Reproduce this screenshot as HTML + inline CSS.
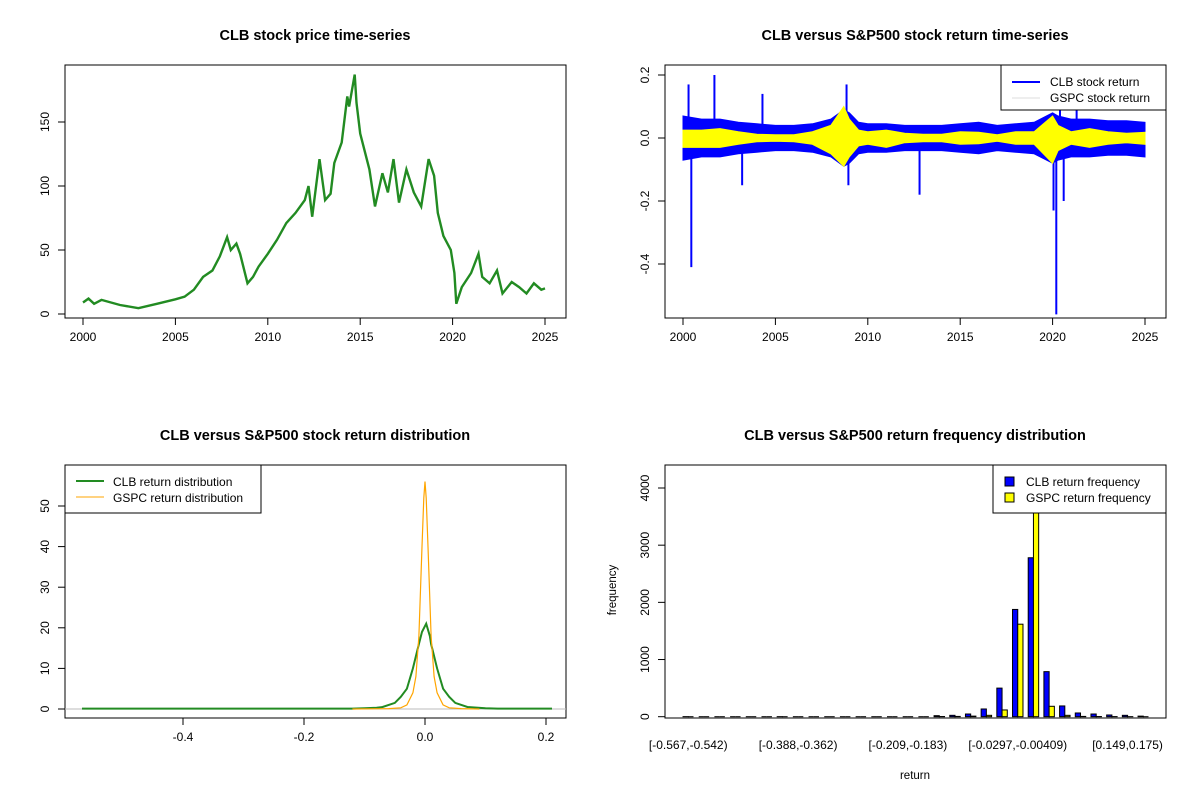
<!DOCTYPE html>
<html><head><meta charset="utf-8"><style>
body{margin:0;background:#fff}
svg{display:block;font-family:"Liberation Sans",Arial,sans-serif}
</style></head><body>
<svg id="c" width="1200" height="800" viewBox="0 0 1200 800"></svg>
<script>
// ---- Panel 1 data: CLB price
const priceYears=[2000,2000.3,2000.6,2001,2002,2003,2004,2005,2005.5,2006,2006.5,2007,2007.4,2007.8,2008,2008.3,2008.5,2008.9,2009.2,2009.5,2010,2010.5,2011,2011.5,2012,2012.2,2012.4,2012.8,2013.1,2013.4,2013.6,2014,2014.3,2014.4,2014.7,2014.8,2015,2015.5,2015.8,2016.2,2016.5,2016.8,2017.1,2017.5,2017.9,2018.3,2018.7,2019,2019.2,2019.5,2019.9,2020.1,2020.2,2020.5,2021,2021.4,2021.6,2022,2022.4,2022.7,2023.2,2023.6,2024,2024.4,2024.8,2025];
const priceValues=[9,12,8,11,7,4.5,8,11.5,13.5,19,29,34,45,60,50,55,47,24,29,37,47,58,71,79,89,100,76,121,89,94,118,134,170,162,187,165,141,113,84,110,95,121,87,113,95,84,121,108,79,61,50,32,8,21,32,47,29,24,34,16,25,21,16,24,19,20];
const priceTicks=[0,50,100,150];
const yearTicks=[2000,2005,2010,2015,2020,2025];
// ---- Panel 2 data: return envelopes per period
const retYears=[2000,2001,2002,2003,2004,2005,2006,2007,2008,2008.7,2009,2009.5,2010,2011,2012,2013,2014,2015,2016,2017,2018,2019,2020,2020.3,2021,2022,2023,2024,2025];
const clbHi=[0.07,0.06,0.06,0.05,0.045,0.04,0.04,0.045,0.06,0.09,0.08,0.05,0.045,0.045,0.04,0.04,0.04,0.045,0.05,0.04,0.045,0.05,0.08,0.07,0.06,0.06,0.055,0.055,0.05];
const clbLo=[-0.07,-0.06,-0.06,-0.05,-0.045,-0.04,-0.04,-0.045,-0.06,-0.09,-0.08,-0.05,-0.045,-0.045,-0.04,-0.04,-0.04,-0.045,-0.05,-0.04,-0.045,-0.05,-0.08,-0.07,-0.06,-0.06,-0.055,-0.055,-0.06];
const gspcHi=[0.025,0.025,0.03,0.02,0.012,0.01,0.01,0.02,0.04,0.1,0.06,0.025,0.02,0.025,0.015,0.012,0.012,0.02,0.018,0.01,0.02,0.02,0.07,0.04,0.02,0.03,0.02,0.015,0.018];
const gspcLo=[-0.03,-0.03,-0.03,-0.02,-0.012,-0.01,-0.012,-0.02,-0.05,-0.09,-0.06,-0.025,-0.02,-0.03,-0.015,-0.012,-0.012,-0.02,-0.018,-0.01,-0.02,-0.02,-0.08,-0.04,-0.02,-0.03,-0.02,-0.015,-0.02];
const spikeYears=[2000.3,2000.45,2001.7,2003.2,2004.3,2008.85,2008.95,2012.8,2020.05,2020.2,2020.4,2020.6,2021.3];
const spikeValues=[0.17,-0.41,0.2,-0.15,0.14,0.17,-0.15,-0.18,-0.23,-0.56,0.15,-0.2,0.12];
const retTicks=[-0.4,-0.2,0.0,0.2];
// ---- Panel 3 data: densities
const densX=[-0.567,-0.3,-0.12,-0.1,-0.08,-0.07,-0.05,-0.04,-0.03,-0.02,-0.01,-0.005,0.002,0.008,0.01,0.02,0.03,0.04,0.05,0.07,0.1,0.12,0.15,0.21];
const clbDens=[0.1,0.1,0.1,0.2,0.3,0.5,1.5,3,5,10,16,19,21,18,16,10,5,3,1.5,0.5,0.2,0.1,0.1,0.1];
const gspcDX=[-0.12,-0.06,-0.04,-0.03,-0.02,-0.015,-0.01,-0.005,-0.002,0,0.002,0.005,0.01,0.015,0.02,0.03,0.04,0.06,0.09];
const gspcDens=[0,0.1,0.3,1,4,8,18,40,52,56,52,40,18,8,4,1,0.3,0.1,0];
const densTicksY=[0,10,20,30,40,50];
const densTicksX=[-0.4,-0.2,0.0,0.2];
// ---- Panel 4 data: histogram
const binLabels=["[-0.567,-0.542)","[-0.388,-0.362)","[-0.209,-0.183)","[-0.0297,-0.00409)","[0.149,0.175)"];
const binLabelIdx=[0,7,14,21,28];
const clbFreq=[1,0,0,0,0,0,1,0,0,0,0,0,0,0,0,0,18,24,47,135,500,1876,2780,788,188,65,47,30,24,10];
const gspcFreq=[0,0,0,0,0,0,0,0,0,0,0,0,0,0,0,0,3,5,10,24,118,1618,4500,182,24,5,3,2,1,0];
const freqTicks=[0,1000,2000,3000,4000];

const NS="http://www.w3.org/2000/svg";
const svg=document.getElementById('c');
function mk(tag,attrs,parent){const e=document.createElementNS(NS,tag);for(const k in attrs)e.setAttribute(k,attrs[k]);(parent||svg).appendChild(e);return e;}
function txt(x,y,s,size,opts,parent){const t=mk('text',Object.assign({x:x,y:y,'font-size':size,'text-anchor':'middle',fill:'#000'},opts||{}),parent);t.textContent=s;return t;}
function lin(a0,a1,p0,p1){return v=>p0+(v-a0)*(p1-p0)/(a1-a0);}
function box(x0,y0,x1,y1,name){const r=mk('rect',{x:x0,y:y0,width:x1-x0,height:y1-y0,fill:'none',stroke:'#000','stroke-width':1});}
function xaxis(ticks,fx,y,labels,name){const g=mk('g',{});
 mk('line',{x1:fx(ticks[0]),x2:fx(ticks[ticks.length-1]),y1:y,y2:y,stroke:'#000'},g);
 ticks.forEach((t,i)=>{mk('line',{x1:fx(t),x2:fx(t),y1:y,y2:y+7,stroke:'#000'},g);txt(fx(t),y+23,labels?labels[i]:String(t),12,{},g);});}
function yaxis(ticks,fy,x,labels,name){const g=mk('g',{});
 mk('line',{x1:x,x2:x,y1:fy(ticks[0]),y2:fy(ticks[ticks.length-1]),stroke:'#000'},g);
 ticks.forEach((t,i)=>{mk('line',{x1:x-7,x2:x,y1:fy(t),y2:fy(t),stroke:'#000'},g);const lx=x-16,ly=fy(t);txt(lx,ly,labels?labels[i]:String(t),12,{transform:`rotate(-90 ${lx} ${ly})`},g);});}
function pathD(xs,ys,fx,fy){return xs.map((v,i)=>(i?'L':'M')+fx(v).toFixed(1)+','+fy(ys[i]).toFixed(1)).join(' ');}
function title(x,y,s,name){const t=txt(x,y,s,14.5,{'font-weight':'bold'});}

// Panel 1
title(315,40,'CLB stock price time-series','title-price');
box(65,65,566,318,'plot-box-price');
{const fx=lin(2000,2025,83,545),fy=lin(0,150,314,122);
 xaxis(yearTicks,fx,318,null,'x-axis-price');yaxis(priceTicks,fy,65,null,'y-axis-price');
 const p=mk('path',{d:pathD(priceYears,priceValues,fx,fy),fill:'none',stroke:'#228B22','stroke-width':2.4,'stroke-linejoin':'miter'});
 }

// Panel 2
title(915,40,'CLB versus S&P500 stock return time-series','title-returns');
box(665,65,1166,318,'plot-box-returns');
{const fx=lin(2000,2025,683,1145),fy=lin(0,0.2,138,75);
 xaxis(yearTicks,fx,318,null,'x-axis-returns');yaxis(retTicks,fy,665,['-0.4','-0.2','0.0','0.2'],'y-axis-returns');
 const band=(hi,lo,col,name)=>{const d=pathD(retYears,hi,fx,fy)+' '+retYears.slice().reverse().map((v,i)=>'L'+fx(v).toFixed(1)+','+fy(lo[lo.length-1-i]).toFixed(1)).join(' ')+'Z';
  const p=mk('path',{d:d,fill:col,stroke:col,'stroke-width':1});};
 band(clbHi,clbLo,'#0000FF','clb-return-band');
 const g=mk('g',{});
 spikeYears.forEach((y,i)=>{mk('line',{x1:fx(y),x2:fx(y),y1:fy(0),y2:fy(spikeValues[i]),stroke:'#0000FF','stroke-width':2},g);});
 band(gspcHi,gspcLo,'#FFFF00','gspc-return-band');
 const lg=mk('g',{});
 mk('rect',{x:1001,y:65,width:165,height:45,fill:'#fff',stroke:'#000'},lg);
 mk('line',{x1:1012,x2:1040,y1:82,y2:82,stroke:'#0000FF','stroke-width':2},lg);
 mk('line',{x1:1012,x2:1040,y1:98,y2:98,stroke:'#ddd','stroke-width':1},lg);
 txt(1050,86,'CLB stock return',12,{'text-anchor':'start'},lg);
 txt(1050,102,'GSPC stock return',12,{'text-anchor':'start'},lg);}

// Panel 3
title(315,440,'CLB versus S&P500 stock return distribution','title-density');
box(65,465,566,718,'plot-box-density');
{const fx=lin(0,0.2,425,546),fy=lin(0,50,709,506);
 xaxis(densTicksX,fx,718,['-0.4','-0.2','0.0','0.2'],'x-axis-density');yaxis(densTicksY,fy,65,null,'y-axis-density');
 mk('line',{x1:65,x2:566,y1:fy(0),y2:fy(0),stroke:'#bbb'});
 const p=mk('path',{d:pathD(densX,clbDens,fx,fy),fill:'none',stroke:'#228B22','stroke-width':2});
 
 const q=mk('path',{d:pathD(gspcDX,gspcDens,fx,fy),fill:'none',stroke:'#FFA500','stroke-width':1.2});
 
 const lg=mk('g',{});
 mk('rect',{x:65,y:465,width:196,height:48,fill:'#fff',stroke:'#000'},lg);
 mk('line',{x1:76,x2:104,y1:481,y2:481,stroke:'#228B22','stroke-width':2},lg);
 mk('line',{x1:76,x2:104,y1:497,y2:497,stroke:'#FFA500','stroke-width':1},lg);
 txt(113,486,'CLB return distribution',12,{'text-anchor':'start'},lg);
 txt(113,502,'GSPC return distribution',12,{'text-anchor':'start'},lg);}

// Panel 4
title(915,440,'CLB versus S&P500 return frequency distribution','title-histogram');
{const fy=lin(0,4000,716.7,488),u=5.23,gx=i=>677.8+u*(1+3*i);
 const cp=mk('clipPath',{id:'cp4'});mk('rect',{x:665,y:465,width:501,height:253},cp);
 const g=mk('g',{'clip-path':'url(#cp4)'});
 const bar=(x,v,col,name)=>{let e;
  if(v<=0){e=mk('line',{x1:x,x2:x+u,y1:fy(0),y2:fy(0),stroke:'#000','stroke-width':1},g);}
  else{e=mk('rect',{x:x,y:fy(v),width:u,height:fy(0)-fy(v),fill:col,stroke:'#000','stroke-width':1},g);}
  };
 clbFreq.forEach((v,i)=>{bar(gx(i),v,'#0000FF','bar-clb');bar(gx(i)+u,gspcFreq[i],'#FFFF00','bar-gspc');});
 box(665,465,1166,718,'plot-box-histogram');
 yaxis(freqTicks,fy,665,null,'y-axis-histogram');
 const lx=mk('g',{});
 binLabelIdx.forEach((bi,i)=>txt(gx(bi)+u,749,binLabels[i],12,{},lx));
 const yl=txt(616,590,'frequency',11.5,{transform:'rotate(-90 616 590)'});
 const xl=txt(915,779,'return',11.5,{});
 const lg=mk('g',{});
 mk('rect',{x:993,y:465,width:173,height:48,fill:'#fff',stroke:'#000'},lg);
 mk('rect',{x:1005,y:477,width:9,height:9,fill:'#0000FF',stroke:'#000'},lg);
 mk('rect',{x:1005,y:493,width:9,height:9,fill:'#FFFF00',stroke:'#000'},lg);
 txt(1026,486,'CLB return frequency',12,{'text-anchor':'start'},lg);
 txt(1026,502,'GSPC return frequency',12,{'text-anchor':'start'},lg);}
</script>
</body></html>
